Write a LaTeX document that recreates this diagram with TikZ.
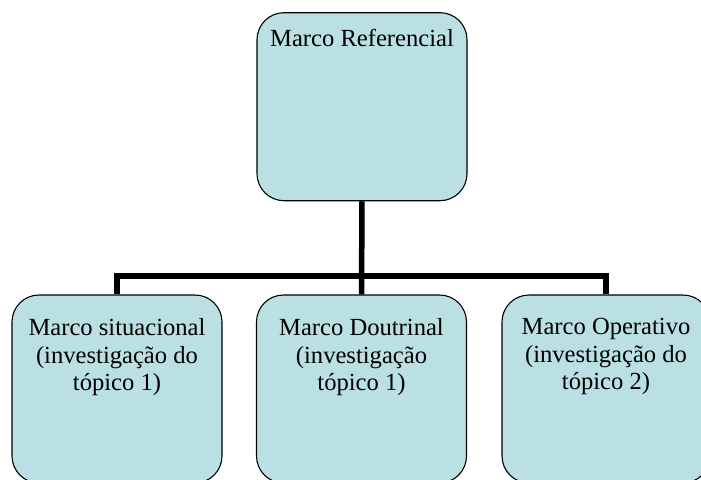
\documentclass[tikz,border=0pt]{standalone}
\usepackage{fontspec}
\setmainfont{Liberation Serif}
\definecolor{boxfill}{HTML}{BBE0E3}
\begin{document}
\begin{tikzpicture}[x=1pt,y=-1pt,
  box/.style={draw=black, line width=1.1pt, fill=boxfill, rounded corners=27pt,
    minimum width=210pt, minimum height=188pt, inner sep=0pt},
  lbl/.style={font=\fontsize{24.6}{27.5}\selectfont, align=center, inner sep=0pt},
  conn/.style={line width=5.5pt}]
\useasboundingbox (0,0) rectangle (701,479);
\clip (0,0) rectangle (701,479);
\node[box] (top) at (362,106.7) {};
\node[box] (left) at (117,389) {};
\node[box] (mid) at (361.5,389) {};
\node[box, minimum width=208pt] (right) at (606,389) {};
\coordinate (hub) at (361.5,276);
\draw[conn] (top.south) -- (mid.north);
\draw[conn] (left.north) -- (left.north |- hub) -- (right.north |- hub) -- (right.north);
\node[lbl, anchor=base] (toplbl) at ([yshift=-34.3pt]top.north) {Marco Referencial};
\node[lbl, anchor=north] (leftlbl) at ([yshift=-24pt]left.north) {Marco situacional\\(investigação do\\tópico 1)};
\node[lbl, anchor=north] (midlbl) at ([yshift=-24pt]mid.north) {Marco Doutrinal\\(investigação\\tópico 1)};
\node[lbl, anchor=north] (rightlbl) at ([yshift=-24pt]right.north) {Marco Operativo\\(investigação do\\tópico 2)};
\end{tikzpicture}
\end{document}
